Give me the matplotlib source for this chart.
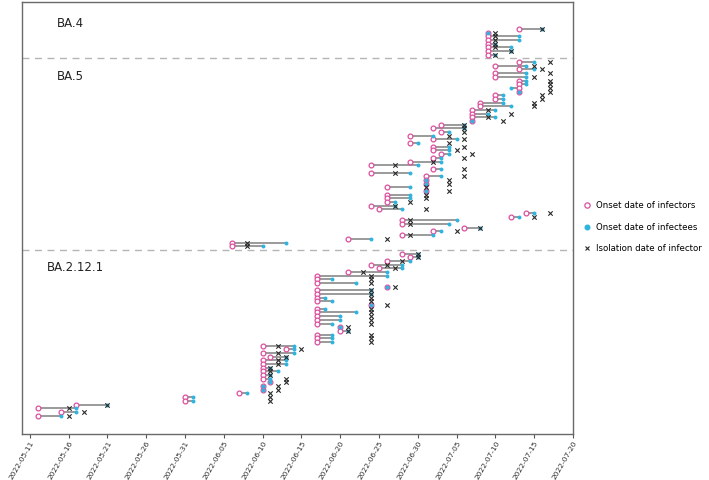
import matplotlib
matplotlib.use("Agg")
import matplotlib.pyplot as plt
import matplotlib.dates as mdates
from matplotlib.lines import Line2D
import pandas as pd

# ---------------- data (rows listed top to bottom) ----------------
groups = ["BA.4", "BA.5", "BA.2.12.1"]

ba4_infector = ["07-13", "07-09", "07-09", "07-09", "07-09", "07-09", "07-09", "07-09"]
ba4_infectee = ["07-16", "07-09", "07-13", "07-13", "07-10", "07-12", "07-12", "07-10"]
ba4_isolation = ["07-16", "07-10", "07-10", "07-10", "07-10", "07-10", "07-12", "07-10"]

ba5_infector = ["07-13", "07-10", "07-13", "07-10", "07-10", "07-13", "07-13", "07-13", "07-13",
                "07-10", "07-10", "07-08", "07-08", "07-07", "07-07", "07-07", "07-07",
                "07-03", "07-02", "07-03", "06-29", "07-02", "06-29", "07-02", "07-02",
                "07-03", "07-02", "06-29", "06-24", "07-02", "06-24", "07-01", "07-01",
                "07-01", "06-26", "07-01", "06-26", "06-26", "06-26", "06-24", "06-25",
                "07-14", "07-12", "06-28", "06-28", "07-06", "07-02", "06-28", "06-21",
                "06-06", "06-06"]
ba5_infectee = ["07-15", "07-14", "07-15", "07-14", "07-14", "07-14", "07-14", "07-12", "07-13",
                "07-11", "07-11", "07-11", "07-12", "07-10", "07-09", "07-10", "07-07",
                "07-06", "07-06", "07-04", "07-02", "07-05", "06-30", "07-04", "07-04",
                "07-04", "07-03", "07-03", "06-30", "07-03", "06-29", "07-03", "07-01",
                "07-01", "06-29", "07-01", "06-29", "06-29", "06-27", "06-27", "06-28",
                "07-15", "07-13", "07-05", "07-04", "07-08", "07-03", "07-02", "06-24",
                "06-13", "06-10"]
ba5_isolation = ["07-17", "07-15", "07-16", "07-17", "07-15", "07-17", "07-17", "07-17", "07-17",
                 "07-16", "07-16", "07-15", "07-15", "07-09", "07-12", "07-09", "07-11",
                 "07-06", "07-06", "07-06", "07-04", "07-06", "07-04", "07-06", "07-05",
                 "07-07", "07-06", "07-02", "06-27", "07-06", "06-27", "07-06", "07-04",
                 "07-04", "07-01", "07-04", "07-01", "07-01", "06-29", "06-27", "07-01",
                 "07-17", "07-15", "06-29", "06-29", "07-08", "07-05", "06-29", "06-26",
                 "06-08", "06-08"]

ba2_infector = ["06-28", "06-29", "06-26", "06-24", "06-25", "06-21", "06-17", "06-17", "06-17",
                "06-26", "06-17", "06-17", "06-17", "06-17", "06-24", "06-17", "06-17",
                "06-17", "06-17", "06-17", "06-20", "06-20", "06-17", "06-17", "06-17",
                "06-10", "06-13", "06-10", "06-11", "06-10", "06-10", "06-10", "06-10",
                "06-10", "06-10", "06-11", "06-10", "06-10", "06-07", "05-31", "05-31",
                "05-17", "05-12", "05-15", "05-12"]
ba2_infectee = ["06-30", "06-30", "06-29", "06-28", "06-28", "06-26", "06-26", "06-19", "06-22",
                "06-26", "06-24", "06-24", "06-18", "06-19", "06-24", "06-18", "06-22",
                "06-20", "06-20", "06-19", "06-20", "06-21", "06-19", "06-19", "06-19",
                "06-14", "06-14", "06-14", "06-13", "06-13", "06-13", "06-11", "06-12",
                "06-11", "06-11", "06-11", "06-10", "06-10", "06-08", "06-01", "06-01",
                "05-21", "05-17", "05-17", "05-15"]
ba2_isolation = ["06-30", "06-30", "06-28", "06-26", "06-27", "06-23", "06-24", "06-24", "06-24",
                 "06-27", "06-24", "06-24", "06-24", "06-24", "06-26", "06-24", "06-24",
                 "06-24", "06-24", "06-24", "06-21", "06-21", "06-24", "06-24", "06-24",
                 "06-12", "06-15", "06-12", "06-13", "06-12", "06-12", "06-11", "06-11",
                 "06-11", "06-13", "06-13", "06-12", "06-12", "06-11", "06-11", "06-11",
                 "05-21", "05-16", "05-18", "05-16"]

tick_labels = ["2022-05-11", "2022-05-16", "2022-05-21", "2022-05-26", "2022-05-31",
               "2022-06-05", "2022-06-10", "2022-06-15", "2022-06-20", "2022-06-25",
               "2022-06-30", "2022-07-05", "2022-07-10", "2022-07-15", "2022-07-20"]

legend_labels = ["Onset date of infectors", "Onset date of infectees", "Isolation date of infector"]

# ---------------- styling ----------------
PINK = "#dc4f9e"
CYAN = "#2fb4df"
LINE = "#7e7e7e"
XCOL = "#2a2a2a"


def to_num(lst):
    return mdates.date2num(pd.to_datetime(["2022-" + s for s in lst]))


group_data = [
    (ba4_infector, ba4_infectee, ba4_isolation),
    (ba5_infector, ba5_infectee, ba5_isolation),
    (ba2_infector, ba2_infectee, ba2_isolation),
]

fig = plt.figure(figsize=(7.09, 4.8), dpi=100)
ax = fig.add_axes([22 / 709, 46 / 480, 551 / 709, 432 / 480])

pos = 0
separators = []
label_pos = []
for gi, (inf, tee, iso) in enumerate(group_data):
    xi, xe, xs = to_num(inf), to_num(tee), to_num(iso)
    ys = list(range(pos, pos + len(inf)))
    label_pos.append(pos)
    for y, a, b in zip(ys, xi, xe):
        ax.plot([a, b], [y, y], color=LINE, lw=1.1, zorder=1, solid_capstyle="butt")
    ax.scatter(xi, ys, s=12, facecolor="white", edgecolor=PINK, linewidth=0.9, zorder=2)
    ax.scatter(xe, ys, s=8, color=CYAN, linewidth=0, zorder=3)
    ax.scatter(xs, ys, s=10, marker="x", color=XCOL, linewidth=0.8, zorder=4)
    pos += len(inf)
    if gi < len(group_data) - 1:
        separators.append(pos)
        pos += 1

for s in separators:
    ax.axhline(s, color="#b5b5b5", lw=1.0, ls=(0, (5, 4)), zorder=0)

# group labels
ax.text(0.064, label_pos[0] - 1.6, groups[0], transform=ax.get_yaxis_transform(),
        fontsize=8.5, va="center", ha="left", color="#222222")
ax.text(0.064, label_pos[1] + 4.0, groups[1], transform=ax.get_yaxis_transform(),
        fontsize=8.5, va="center", ha="left", color="#222222")
ax.text(0.045, label_pos[2] + 3.9, groups[2], transform=ax.get_yaxis_transform(),
        fontsize=8.5, va="center", ha="left", color="#222222")

ax.set_ylim(110.0, -7.33)
ax.set_xlim(mdates.date2num(pd.Timestamp("2022-05-10")), mdates.date2num(pd.Timestamp("2022-07-20")))

ticks = mdates.date2num(pd.to_datetime(tick_labels))
ax.set_xticks(ticks)
ax.set_xticklabels(tick_labels, rotation=60, ha="right", rotation_mode="anchor",
                   fontsize=5.4, color="#333333")
ax.tick_params(axis="x", length=3, width=0.8, color="#555555", pad=1.0)
ax.set_yticks([])
for sp in ax.spines.values():
    sp.set_color("#6a6a6a")
    sp.set_linewidth(1.0)

handles = [
    Line2D([], [], marker="o", ls="none", markerfacecolor="white", markeredgecolor=PINK,
           markersize=3.8, markeredgewidth=0.9),
    Line2D([], [], marker="o", ls="none", color=CYAN, markersize=3.3),
    Line2D([], [], marker="x", ls="none", color=XCOL, markersize=3.3, markeredgewidth=0.8),
]
fig.legend(handles, legend_labels, loc="center left", bbox_to_anchor=(0.815, 0.527),
           frameon=False, fontsize=6.2, handlelength=0.8, handletextpad=0.6,
           labelspacing=1.4, borderpad=0.2)

fig.savefig("out.png", dpi=100)
